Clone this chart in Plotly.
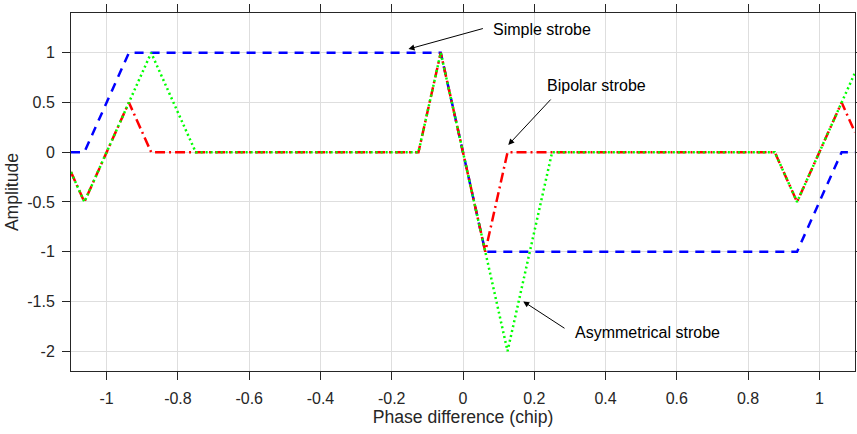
import plotly.graph_objects as go

# Breakpoints (chip) and amplitudes
x_simple = [-1.1, -1.0625, -0.9375, -0.0625, 0.0625, 0.9375, 1.0625, 1.1]
y_simple = [0, 0, 1, 1, -1, -1, 0, 0]

x_bipolar = [-1.1, -1.0625, -0.9375, -0.875, -0.125, -0.0625, 0.0625, 0.125, 0.875, 0.9375, 1.0625, 1.1]
y_bipolar = [-0.2, -0.5, 0.5, 0, 0, 1, -1, 0, 0, -0.5, 0.5, 0.2]

x_asym = [-1.1, -1.0625, -0.875, -0.75, -0.125, -0.0625, 0.125, 0.25, 0.875, 0.9375, 1.1]
y_asym = [-0.2, -0.5, 1, 0, 0, 1, -2, 0, 0, -0.5, 0.8]

x_ticks = [-1, -0.8, -0.6, -0.4, -0.2, 0, 0.2, 0.4, 0.6, 0.8, 1]
x_ticktext = ["-1", "-0.8", "-0.6", "-0.4", "-0.2", "0", "0.2", "0.4", "0.6", "0.8", "1"]
y_ticks = [-2, -1.5, -1, -0.5, 0, 0.5, 1]
y_ticktext = ["-2", "-1.5", "-1", "-0.5", "0", "0.5", "1"]

FONT = "Liberation Sans, Arial, Helvetica, sans-serif"
AX = "#262626"

fig = go.Figure()
fig.add_trace(go.Scatter(x=x_simple, y=y_simple, mode="lines",
                         line=dict(color="#0000ff", width=2.5, dash="9px,7px"),
                         name="Simple strobe"))
fig.add_trace(go.Scatter(x=x_bipolar, y=y_bipolar, mode="lines",
                         line=dict(color="#ff0000", width=2.5, dash="10px,4px,2px,4px"),
                         name="Bipolar strobe"))
fig.add_trace(go.Scatter(x=x_asym, y=y_asym, mode="lines",
                         line=dict(color="#00ff00", width=2.5, dash="2px,3px"),
                         name="Asymmetrical strobe"))

annots = [
    ("Simple strobe", -0.153, 1.037, 0.060, 1.248, 0.079, 1.238),
    ("Bipolar strobe", 0.127, 0.073, 0.250, 0.545, 0.231, 0.666),
    ("Asymmetrical strobe", 0.169, -1.50, 0.289, -1.78, 0.309, -1.81),
]
for text, hx, hy, tx, ty, lx, ly in annots:
    fig.add_annotation(x=hx, y=hy, ax=tx, ay=ty, xref="x", yref="y",
                       axref="x", ayref="y", text="", showarrow=True,
                       arrowhead=2, arrowsize=1.2, arrowwidth=1, arrowcolor="black")
    fig.add_annotation(x=lx, y=ly, xref="x", yref="y", text=text, showarrow=False,
                       xanchor="left", yanchor="middle",
                       font=dict(family=FONT, size=16, color="black"))

axis_common = dict(showline=True, linecolor=AX, linewidth=1, mirror="ticks",
                   ticks="outside", ticklen=8, tickcolor=AX, automargin=False,
                   showgrid=True, gridcolor="#dedede", gridwidth=1,
                   zeroline=False, tickfont=dict(family=FONT, size=16, color=AX))

fig.update_xaxes(range=[-1.1, 1.1], tickvals=x_ticks, ticktext=x_ticktext,
                 ticklabelstandoff=5,
                 title=dict(text="Phase difference (chip)", standoff=4,
                            font=dict(family=FONT, size=17.6, color=AX)),
                 **axis_common)
fig.update_yaxes(range=[-2.2, 1.4], tickvals=y_ticks, ticktext=y_ticktext,
                 ticklabelstandoff=4,
                 title=dict(text="Amplitude", standoff=4,
                            font=dict(family=FONT, size=17.6, color=AX)),
                 **axis_common)

fig.update_layout(width=857, height=434, showlegend=False,
                  margin=dict(l=71, r=2, t=13, b=63),
                  paper_bgcolor="white", plot_bgcolor="white",
                  font=dict(family=FONT))

fig.write_html("out.html", config={"displayModeBar": False},
               post_script="document.body.style.margin='0px';"
                           "document.body.style.overflow='hidden';")
